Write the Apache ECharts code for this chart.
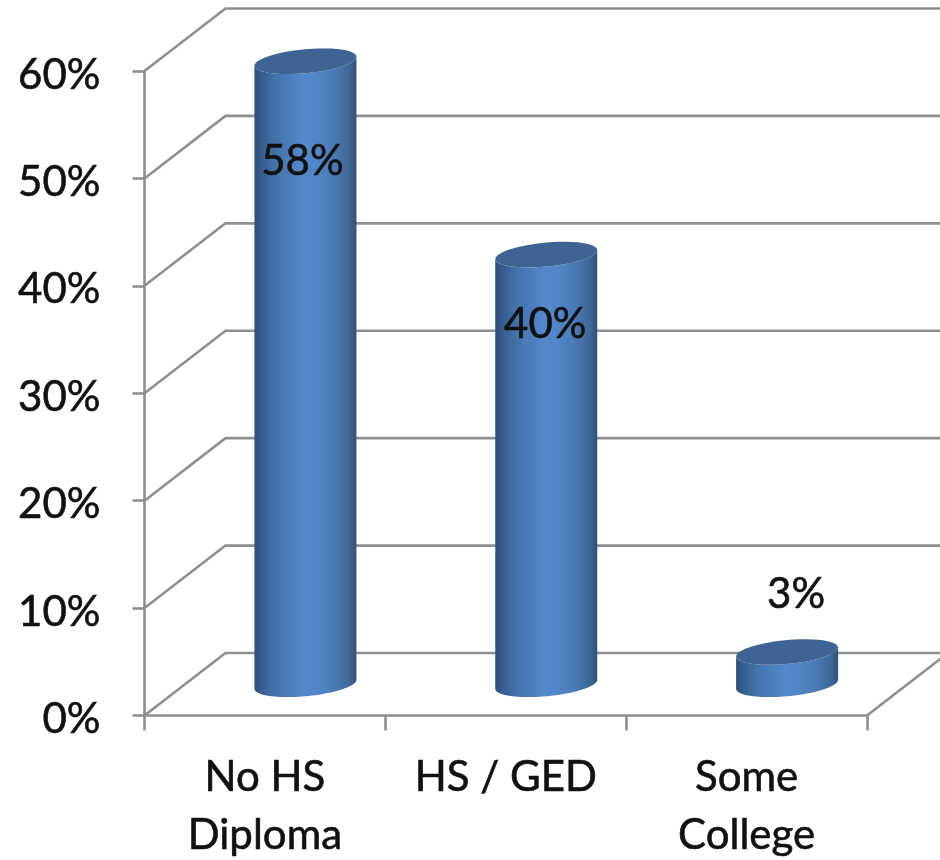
<!DOCTYPE html>
<html>
<head>
<meta charset="utf-8">
<style>html,body{margin:0;padding:0;background:#fff}#c{width:940px;height:860px}</style>
<script src="https://cdn.jsdelivr.net/npm/echarts@6/dist/echarts.min.js"></script>
</head>
<body>
<div id="c"></div>
<script>
const categories = ['No HS\nDiploma', 'HS / GED', 'Some\nCollege'];
const shareValues = [58, 40, 3];
const shareLabels = ['58%', '40%', '3%'];
const gridValues = [0, 10, 20, 30, 40, 50, 60];

const DEPTH_X = 81, DEPTH_Y = -62.5;
const LINE = '#8f8f8f';
const INK = '#111';
const FONT = 'Lato, "Open Sans", sans-serif';
const LW = 2.6;
const labelShift = [[-3, 100], [-1, 70], [9, -58]];

const sideFill = {
  type: 'linear', x: 0, y: 0, x2: 1, y2: 0,
  colorStops: [
    { offset: 0, color: '#2f507c' },
    { offset: 0.18, color: '#4170a6' },
    { offset: 0.47, color: '#5488cc' },
    { offset: 0.62, color: '#5285c7' },
    { offset: 0.76, color: '#4c7cb9' },
    { offset: 0.93, color: '#3f6896' },
    { offset: 1, color: '#2f4f78' }
  ]
};

function ellipsePts(cx, cy, from, to) {
  const a = 51, b = 12, shear = 4.5, n = 48, out = [];
  for (let i = 0; i <= n; i++) {
    const t = from + (to - from) * i / n;
    out.push([cx + a * Math.cos(t), cy + b * Math.sin(t) - shear * Math.cos(t)]);
  }
  return out;
}

function renderWall(params, api) {
  const p = api.coord([0, api.value(0)]);
  const cs = params.coordSys;
  const x0 = cs.x, x1 = cs.x + cs.width, y = p[1];
  const pts = [[x0, y], [x0 + DEPTH_X, y + DEPTH_Y], [x1 + DEPTH_X, y + DEPTH_Y]];
  const kids = [{ type: 'polyline', shape: { points: pts }, style: { stroke: LINE, lineWidth: LW, fill: 'none' } }];
  if (api.value(0) === 0) {
    kids.push({ type: 'line', shape: { x1: x1, y1: y, x2: x1 + DEPTH_X, y2: y + DEPTH_Y }, style: { stroke: LINE, lineWidth: LW } });
  }
  return { type: 'group', children: kids };
}

function renderBar(params, api) {
  const top = api.coord([api.value(0), api.value(1)]);
  const base = api.coord([api.value(0), 0]);
  const cx = top[0] + DEPTH_X / 2;
  const ty = top[1] + DEPTH_Y / 2;
  const by = base[1] + DEPTH_Y / 2;
  const side = ellipsePts(cx, ty, 0, Math.PI).concat(ellipsePts(cx, by, Math.PI, 0));
  const shift = labelShift[params.dataIndex];
  return {
    type: 'group',
    children: [
      { type: 'polygon', shape: { points: side }, style: { fill: sideFill } },
      { type: 'polygon', shape: { points: ellipsePts(cx, ty, 0, Math.PI * 2) }, style: { fill: '#3d6493' } },
      { type: 'text', style: {
          x: cx + shift[0], y: ty + shift[1],
          text: shareLabels[params.dataIndex],
          font: '42px ' + FONT, fill: INK, stroke: INK, lineWidth: 0.6, align: 'center', verticalAlign: 'middle'
        } }
    ]
  };
}

const chart = echarts.init(document.getElementById('c'), null, { renderer: 'canvas' });
chart.setOption({
  animation: false,
  backgroundColor: '#fff',
  grid: { left: 144.5, right: 73, top: 71, bottom: 144.5, containLabel: false, outerBoundsMode: 'none' },
  xAxis: {
    type: 'category',
    data: categories,
    axisLine: { lineStyle: { color: LINE, width: LW } },
    axisTick: { show: true, length: 15, alignWithLabel: false, lineStyle: { color: LINE, width: LW } },
    axisLabel: { color: INK, fontFamily: FONT, fontSize: 42, lineHeight: 58, margin: 33, interval: 0, textBorderColor: INK, textBorderWidth: 0.6 }
  },
  yAxis: {
    type: 'value', min: 0, max: 60, interval: 10,
    axisLine: { show: true, lineStyle: { color: LINE, width: LW } },
    axisTick: { show: true, length: 12, lineStyle: { color: LINE, width: LW } },
    splitLine: { show: false },
    axisLabel: { color: INK, fontFamily: FONT, fontSize: 42, margin: 44, formatter: '{value}%', verticalAlign: 'top', lineHeight: 8, textBorderColor: INK, textBorderWidth: 0.6 }
  },
  series: [
    { type: 'custom', z: 1, silent: true, coordinateSystem: 'cartesian2d', renderItem: renderWall,
      encode: { y: 0 }, data: gridValues.map(v => [v]) },
    { type: 'custom', z: 3, silent: true, coordinateSystem: 'cartesian2d', renderItem: renderBar,
      encode: { x: 0, y: 1 }, data: shareValues.map((v, i) => [i, v]) }
  ]
});
</script>
</body>
</html>
